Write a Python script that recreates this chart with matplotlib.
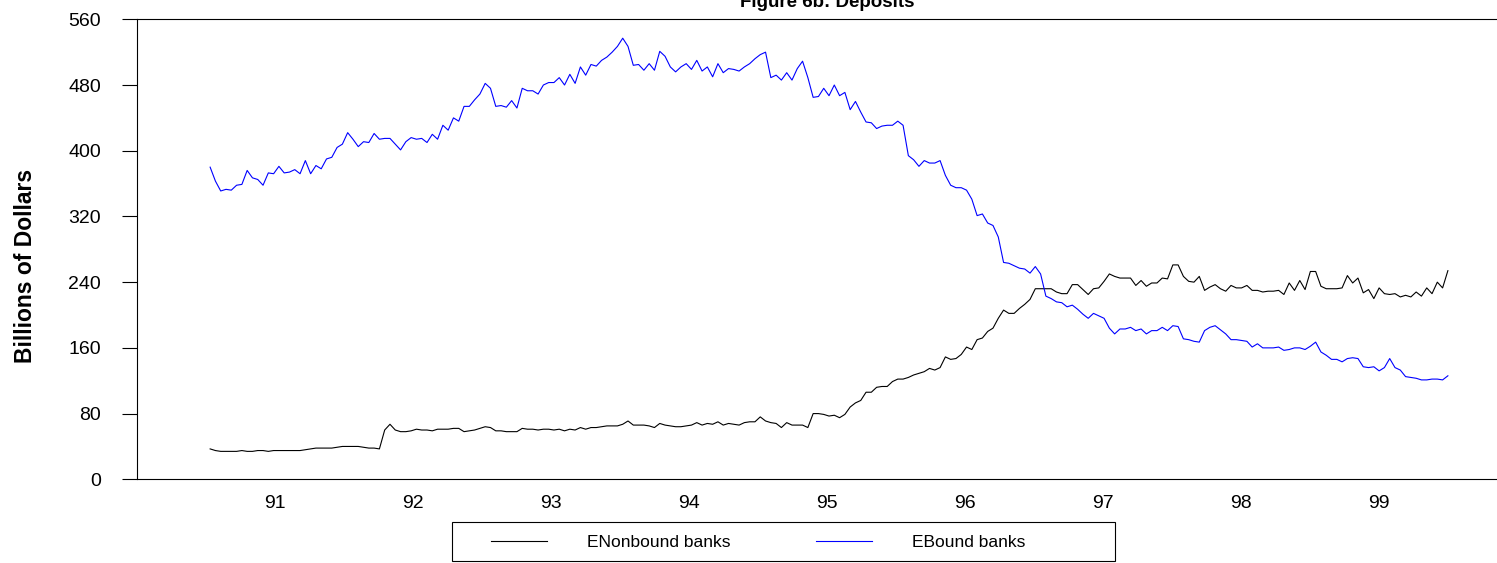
import numpy as np
import matplotlib
matplotlib.use("Agg")
import matplotlib.pyplot as plt
from matplotlib.patches import Rectangle

plt.rcParams['font.family'] = ['Liberation Sans', 'DejaVu Sans']

# ------------------------------------------------
# Data (biweekly, billions of dollars)
# ------------------------------------------------
start_year = 90.53          # first observation, mid-1990
step_years = 14 / 365.25    # biweekly

bound_banks = [
    380, 363, 351, 353, 352, 358, 359, 376, 367, 365,
    358, 373, 372, 381, 373, 374, 377, 372, 388, 372,
    382, 378, 390, 392, 404, 408, 422, 414, 405, 411,
    410, 421, 414, 415, 415, 408, 401, 411, 416, 414,
    415, 410, 420, 414, 431, 425, 440, 436, 454, 454,
    462, 469, 482, 476, 454, 455, 453, 461, 452, 476,
    473, 473, 469, 480, 483, 483, 489, 480, 493, 482,
    502, 492, 505, 503, 510, 514, 520, 527, 537, 527,
    504,
    505, 498, 506, 498, 521, 515, 502, 496, 502, 506,
    499, 510, 497, 502, 490, 506, 495, 500, 499, 497,
    502, 506, 512, 517, 520, 489, 492, 486, 495, 486,
    500, 509, 489, 465, 466, 476, 467, 480, 467, 471,
    450,
    460, 447, 435, 434, 427, 430, 431, 431, 436, 431,
    394, 389, 381, 388, 385, 385, 388, 370, 358, 355,
    355, 352, 341, 321, 323, 312, 309, 295, 264, 263,
    260, 257, 256, 251, 259, 250, 223, 220, 216, 215,
    210, 212, 207, 201, 196, 202, 199, 196,
    184, 177, 183, 183, 185, 181, 183, 177, 181, 181,
    185, 181, 187, 186, 171, 170, 168, 167, 181, 185,
    187, 182, 177, 170, 170, 169, 168, 161, 165, 160,
    160, 160, 161, 157, 158, 160, 160, 158, 162, 167,
    155, 151, 146, 146, 143, 147, 148, 147, 137, 136,
    137, 132, 136, 147, 136, 133, 125, 124, 123, 121,
    121, 122, 122, 121, 126,
]

nonbound_banks = [
    37, 35, 34, 34, 34, 34, 35, 34, 34, 35,
    35, 34, 35, 35, 35, 35, 35, 35, 36, 37,
    38, 38, 38, 38, 39, 40, 40, 40, 40, 39,
    38, 38, 37, 60, 67, 60, 58, 58, 59, 61,
    60, 60, 59, 61, 61, 61, 62, 62, 58, 59,
    60, 62, 64, 63, 59, 59, 58, 58, 58, 62,
    61, 61, 60, 61, 61, 60, 61, 59, 61, 60,
    63, 61, 63, 63, 64, 65, 65, 65, 67, 71,
    66, 66, 66, 65, 63, 68, 66, 65, 64, 64,
    65, 66, 69, 66, 68, 67, 70, 66, 68, 67,
    66, 69, 70, 70, 76, 71, 69, 68, 63, 69,
    66, 66, 66, 63, 80, 80, 79, 77, 78, 75,
    79, 88, 93, 96, 106, 106, 112, 113, 113, 119,
    122, 122, 124, 127, 129, 131, 135, 133, 136, 149,
    146, 147, 152, 161, 158, 170, 172, 180, 184, 196,
    206, 202, 202, 208, 213, 219, 232, 232, 232, 232,
    228, 226, 226, 237, 237, 231, 225, 232, 233, 241,
    250, 247, 245, 245, 245, 236, 242, 235, 239, 239,
    245, 244, 261, 261, 247, 241, 240, 247, 230, 234,
    237, 232, 229, 236, 233, 233, 236, 230, 230, 228,
    229, 229, 230, 225, 239, 230, 242, 231, 253, 253,
    235, 232, 232, 232, 233, 248, 239, 245, 227, 231,
    220, 233, 226, 225, 226, 222, 224, 222, 228, 223,
    233, 226, 240, 233, 254,
]

year_ticks = [91, 92, 93, 94, 95, 96, 97, 98, 99]
y_ticks = [0, 80, 160, 240, 320, 400, 480, 560]

n = min(len(bound_banks), len(nonbound_banks))
dates = start_year + np.arange(n) * step_years

# ------------------------------------------------
# Figure
# ------------------------------------------------
W, H = 1497, 563
fig = plt.figure(figsize=(W / 100, H / 100), dpi=100)
ax = fig.add_axes([137 / W, 1 - 479.3 / H, 1380 / W, 460 / H])

ax.plot(dates, nonbound_banks[:n], color="black", lw=0.8)
ax.plot(dates, bound_banks[:n], color="#0000ff", lw=0.8)

ax.set_xlim(90, 100)
ax.set_ylim(0, 560)
ax.set_xticks(year_ticks)
ax.set_xticklabels([str(y) for y in year_ticks])
ax.set_yticks(y_ticks)
ax.tick_params(axis="x", length=0, pad=11, labelsize=14)
ax.tick_params(axis="y", length=11, width=0.8, pad=15, labelsize=14)
for s in ax.spines.values():
    s.set_linewidth(0.8)

ax.set_title("Figure 6b: Deposits", fontsize=13.5, fontweight="bold", pad=8.5)
fig.text(25 / W, 1 - 266 / H, "Billions of Dollars", rotation=90,
         ha="center", va="center", fontsize=16.5, fontweight="bold")

# ------------------------------------------------
# Legend box below the plot
# ------------------------------------------------
fig.patches.append(Rectangle((452 / W, 1 - 561 / H), (1115 - 452) / W, 39 / H,
                             transform=fig.transFigure, fill=False,
                             edgecolor="black", lw=0.8))
handles = [plt.Line2D([], [], color="black", lw=0.8),
           plt.Line2D([], [], color="#0000ff", lw=0.8)]
fig.legend(handles, ["ENonbound banks", "EBound banks"], ncol=2,
           loc="center left", bbox_to_anchor=(491 / W, 1 - 542 / H),
           frameon=False, fontsize=12.5, borderpad=0, borderaxespad=0,
           handlelength=3.25, handletextpad=2.3, columnspacing=4.9)

fig.savefig("out.png", dpi=100)
